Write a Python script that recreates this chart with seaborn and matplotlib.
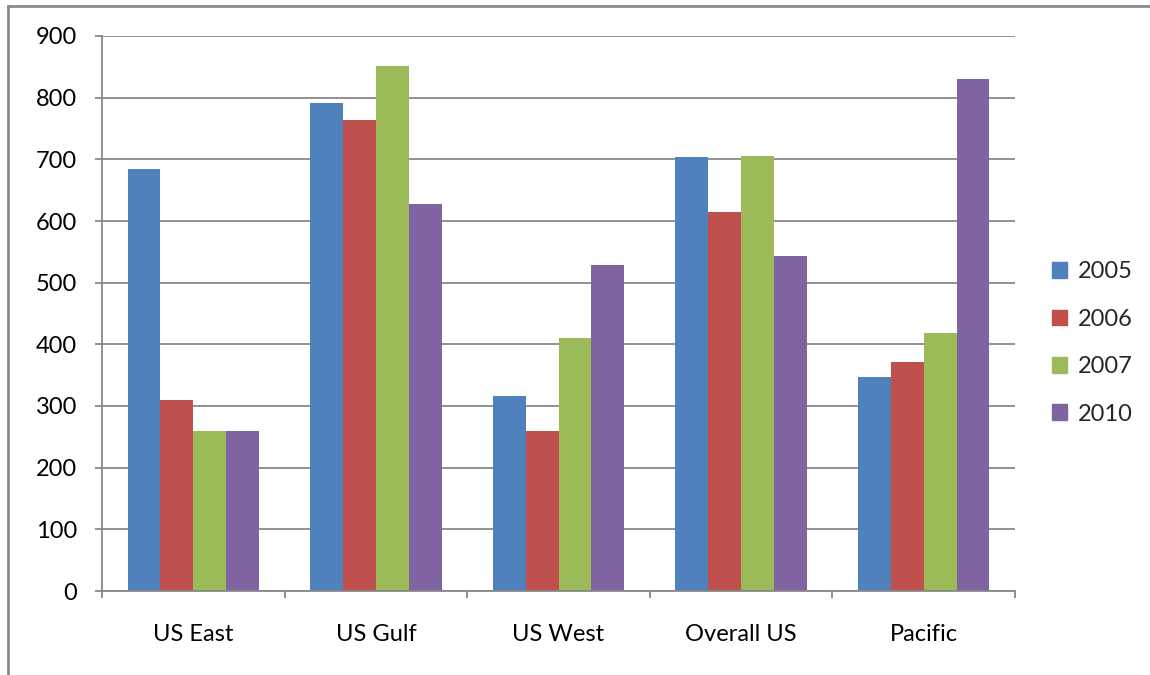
import matplotlib
matplotlib.use("Agg")
import matplotlib.pyplot as plt
from matplotlib.lines import Line2D
import seaborn as sns
import pandas as pd

categories = ["US East", "US Gulf", "US West", "Overall US", "Pacific"]
years = ["2005", "2006", "2007", "2010"]
v2005 = [684, 791, 317, 704, 347]
v2006 = [309, 763, 259, 614, 371]
v2007 = [260, 852, 410, 706, 418]
v2010 = [260, 628, 528, 544, 830]
colors = ["#4F81BD", "#C0504D", "#9BBB59", "#8064A2"]

rows = []
for yr, vals in zip(years, [v2005, v2006, v2007, v2010]):
    for c, v in zip(categories, vals):
        rows.append({"region": c, "year": yr, "value": v})
df = pd.DataFrame(rows)

sns.set_theme(style="white")
plt.rcParams["font.family"] = ["Lato", "DejaVu Sans"]

fig = plt.figure(figsize=(11.5, 6.75), dpi=100)
ax = fig.add_axes([102/1150, 1-591/675, (1015-102)/1150, (591-36)/675])

sns.barplot(data=df, x="region", y="value", hue="year", order=categories,
            hue_order=years, palette=colors, width=0.72, ax=ax,
            edgecolor="none", linewidth=0, saturation=1, errorbar=None)

grid_c = "#888888"
ax.set_ylim(0, 900)
ax.set_xlim(-0.5, 4.5)
ax.set_yticks(range(0, 901, 100))
ax.yaxis.grid(True, color=grid_c, linewidth=1.3)
ax.set_axisbelow(True)
ax.set_xlabel("")
ax.set_ylabel("")
for s in ["top", "right"]:
    ax.spines[s].set_visible(False)
for s in ["left", "bottom"]:
    ax.spines[s].set_color(grid_c)
    ax.spines[s].set_linewidth(1.3)

ax.tick_params(axis="y", which="major", direction="out", length=5, width=1.3,
               color=grid_c, left=True, pad=13, labelsize=17, labelcolor="black")
ax.tick_params(axis="x", which="major", length=0, pad=23.5, labelsize=17,
               labelcolor="black")
ax.set_xticks([i - 0.5 for i in range(6)], minor=True)
ax.tick_params(axis="x", which="minor", direction="out", length=5, width=1.3,
               color=grid_c, bottom=True)

handles = [plt.Rectangle((0, 0), 1, 1, color=c) for c in colors]
ax.legend(handles, years, loc="center left", bbox_to_anchor=(1052/1150, 1-343/675),
          bbox_transform=fig.transFigure, frameon=False, fontsize=17,
          handlelength=0.65, handleheight=0.65, handletextpad=0.45,
          labelspacing=1.12, borderaxespad=0, borderpad=0)

fig.add_artist(Line2D([8/1150, 1.0], [1-6/675, 1-6/675], transform=fig.transFigure,
                      color="#8a8a8a", linewidth=2))
fig.add_artist(Line2D([8/1150, 8/1150], [1-6/675, 0.0], transform=fig.transFigure,
                      color="#8a8a8a", linewidth=2))

fig.savefig("out.png", dpi=100)
